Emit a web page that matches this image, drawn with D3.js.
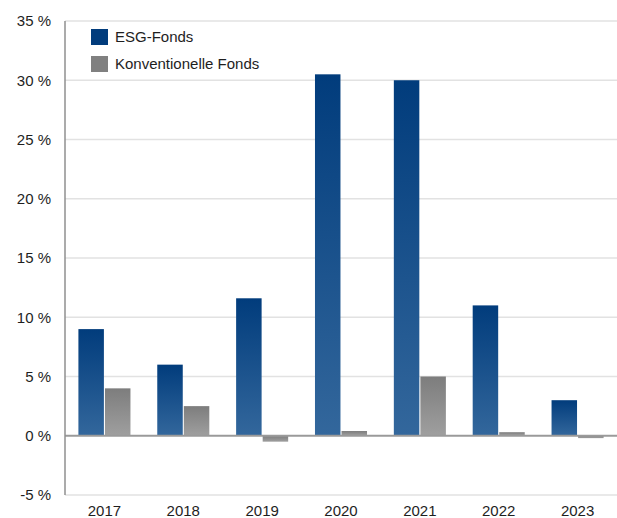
<!DOCTYPE html>
<html>
<head>
<meta charset="utf-8">
<script src="https://cdn.jsdelivr.net/npm/d3@7"></script>
<style>
  body { margin: 0; background: #fff; }
  svg text { font-family: "Liberation Sans", Arial, sans-serif; fill: #1e1e1e; }
</style>
</head>
<body>
<svg width="617" height="518"></svg>
<script>
// Data
let years = ["2017", "2018", "2019", "2020", "2021", "2022", "2023"];
let esgValues = [9, 6, 11.6, 30.5, 30, 11, 3];
let convValues = [4, 2.5, -0.5, 0.4, 5, 0.3, -0.2];
let seriesNames = ["ESG-Fonds", "Konventionelle Fonds"];
let yTicks = [-5, 0, 5, 10, 15, 20, 25, 30, 35];

let svg = d3.select("svg");
let width = +svg.attr("width");
let height = +svg.attr("height");

let margin = { left: 65, right: 0, top: 21, bottom: 23 };

// Scales
let x = d3.scaleBand()
  .domain(years)
  .range([margin.left, width - margin.right])
  .paddingInner(0.34)
  .paddingOuter(0.17);

let x1 = d3.scaleBand()
  .domain(seriesNames)
  .range([0, x.bandwidth()])
  .paddingInner(0.04);

let y = d3.scaleLinear()
  .domain([-5, 35])
  .range([height - margin.bottom, margin.top]);

// Gradients
let defs = svg.append("defs");
let gEsg = defs.append("linearGradient").attr("id", "gradEsg")
  .attr("x1", 0).attr("y1", 0).attr("x2", 0).attr("y2", 1);
gEsg.append("stop").attr("offset", "0%").attr("stop-color", "#013c7c");
gEsg.append("stop").attr("offset", "100%").attr("stop-color", "#33679c");
let gConv = defs.append("linearGradient").attr("id", "gradConv")
  .attr("x1", 0).attr("y1", 0).attr("x2", 0).attr("y2", 1);
gConv.append("stop").attr("offset", "0%").attr("stop-color", "#7d7d7d");
gConv.append("stop").attr("offset", "100%").attr("stop-color", "#9f9f9f");

// Grid lines
svg.append("g")
  .selectAll("line")
  .data(yTicks.filter(d => d !== 0))
  .enter()
  .append("line")
  .attr("x1", margin.left)
  .attr("x2", width - margin.right)
  .attr("y1", d => y(d))
  .attr("y2", d => y(d))
  .attr("stroke", "#e2e2e2")
  .attr("stroke-width", 1.5);

// Y tick labels
svg.append("g")
  .selectAll("text")
  .data(yTicks)
  .enter()
  .append("text")
  .attr("x", 51)
  .attr("y", d => y(d))
  .attr("dy", "0.36em")
  .attr("text-anchor", "end")
  .style("font-size", "15px")
  .text(d => d + " %");

// Bars
let rows = years.map((yr, i) => ({ year: yr, esg: esgValues[i], conv: convValues[i] }));
let groups = svg.append("g")
  .selectAll("g")
  .data(rows)
  .enter()
  .append("g")
  .attr("transform", d => "translate(" + x(d.year) + ",0)");

groups.append("rect")
  .attr("x", x1(seriesNames[0]))
  .attr("width", x1.bandwidth())
  .attr("y", d => y(Math.max(0, d.esg)))
  .attr("height", d => Math.abs(y(d.esg) - y(0)))
  .attr("fill", "url(#gradEsg)");

groups.append("rect")
  .attr("x", x1(seriesNames[1]))
  .attr("width", x1.bandwidth())
  .attr("y", d => y(Math.max(0, d.conv)))
  .attr("height", d => Math.abs(y(d.conv) - y(0)))
  .attr("fill", "url(#gradConv)");

// Zero line and y axis line
svg.append("line")
  .attr("x1", margin.left).attr("x2", width - margin.right)
  .attr("y1", y(0)).attr("y2", y(0))
  .attr("stroke", "#9a9a9a").attr("stroke-width", 2);

svg.append("line")
  .attr("x1", margin.left).attr("x2", margin.left)
  .attr("y1", y(35)).attr("y2", y(-5))
  .attr("stroke", "#8f8f8f").attr("stroke-width", 1.5);

// X labels
svg.append("g")
  .selectAll("text")
  .data(years)
  .enter()
  .append("text")
  .attr("x", d => x(d) + x.bandwidth() / 2)
  .attr("y", 516)
  .attr("text-anchor", "middle")
  .style("font-size", "15px")
  .text(d => d);

// Legend
let legendColors = ["#013c7c", "#808080"];
let legend = svg.append("g")
  .selectAll("g")
  .data(seriesNames)
  .enter()
  .append("g")
  .attr("transform", (d, i) => "translate(91," + (29 + i * 27) + ")");

legend.append("rect")
  .attr("width", 17)
  .attr("height", 16)
  .attr("fill", (d, i) => legendColors[i]);

legend.append("text")
  .attr("x", 24)
  .attr("y", 8)
  .attr("dy", "0.36em")
  .style("font-size", "15px")
  .text(d => d);
</script>
</body>
</html>
